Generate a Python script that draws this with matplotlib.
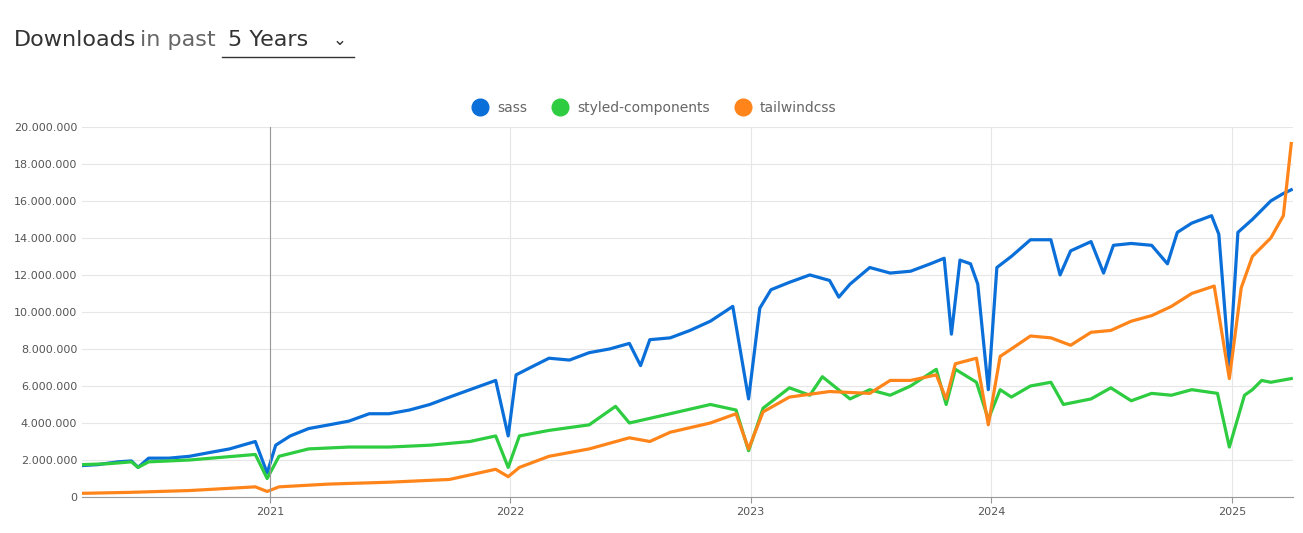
import matplotlib
matplotlib.use("Agg")
import matplotlib.pyplot as plt
import matplotlib.dates as mdates
import pandas as pd
from matplotlib.ticker import FuncFormatter
from matplotlib.lines import Line2D

sass_dates = ["2020-03-22","2020-04-15","2020-05-15","2020-06-05","2020-06-15","2020-07-01","2020-08-01","2020-09-01","2020-10-01","2020-11-01","2020-12-10","2020-12-28","2021-01-10","2021-02-01","2021-03-01","2021-04-01","2021-05-01","2021-06-01","2021-07-01","2021-08-01","2021-09-01","2021-10-01","2021-11-01","2021-12-10","2021-12-29","2022-01-10","2022-02-01","2022-03-01","2022-04-01","2022-05-01","2022-06-01","2022-07-01","2022-07-18","2022-08-01","2022-09-01","2022-10-01","2022-11-01","2022-12-05","2022-12-29","2023-01-15","2023-02-01","2023-03-01","2023-04-01","2023-05-01","2023-05-15","2023-06-01","2023-07-01","2023-08-01","2023-09-01","2023-10-01","2023-10-22","2023-11-02","2023-11-15","2023-12-01","2023-12-12","2023-12-28","2024-01-10","2024-02-01","2024-03-01","2024-04-01","2024-04-15","2024-05-01","2024-06-01","2024-06-20","2024-07-05","2024-08-01","2024-09-01","2024-09-25","2024-10-10","2024-11-01","2024-12-01","2024-12-12","2024-12-28","2025-01-10","2025-02-01","2025-03-01","2025-03-20","2025-04-01"]
sass = [1.7,1.75,1.9,1.95,1.6,2.1,2.1,2.2,2.4,2.6,3.0,1.3,2.8,3.3,3.7,3.9,4.1,4.5,4.5,4.7,5.0,5.4,5.8,6.3,3.3,6.6,7.0,7.5,7.4,7.8,8.0,8.3,7.1,8.5,8.6,9.0,9.5,10.3,5.3,10.2,11.2,11.6,12.0,11.7,10.8,11.5,12.4,12.1,12.2,12.6,12.9,8.8,12.8,12.6,11.5,5.8,12.4,13.0,13.9,13.9,12.0,13.3,13.8,12.1,13.6,13.7,13.6,12.6,14.3,14.8,15.2,14.2,7.0,14.3,15.0,16.0,16.4,16.6]

sc_dates = ["2020-03-22","2020-05-01","2020-06-05","2020-06-15","2020-07-01","2020-09-01","2020-12-10","2020-12-28","2021-01-15","2021-03-01","2021-05-01","2021-07-01","2021-09-01","2021-11-01","2021-12-10","2021-12-29","2022-01-15","2022-03-01","2022-05-01","2022-06-10","2022-07-01","2022-09-01","2022-11-01","2022-12-10","2022-12-29","2023-01-20","2023-03-01","2023-04-01","2023-04-20","2023-06-01","2023-07-01","2023-08-01","2023-09-01","2023-10-10","2023-10-25","2023-11-08","2023-12-10","2023-12-28","2024-01-15","2024-02-01","2024-03-01","2024-04-01","2024-04-20","2024-06-01","2024-07-01","2024-08-01","2024-09-01","2024-10-01","2024-11-01","2024-12-10","2024-12-28","2025-01-20","2025-02-01","2025-02-15","2025-03-01","2025-04-01"]
sc = [1.75,1.8,1.9,1.6,1.9,2.0,2.3,1.0,2.2,2.6,2.7,2.7,2.8,3.0,3.3,1.6,3.3,3.6,3.9,4.9,4.0,4.5,5.0,4.7,2.5,4.8,5.9,5.5,6.5,5.3,5.8,5.5,6.0,6.9,5.0,6.9,6.2,4.2,5.8,5.4,6.0,6.2,5.0,5.3,5.9,5.2,5.6,5.5,5.8,5.6,2.7,5.5,5.8,6.3,6.2,6.4]

tw_dates = ["2020-03-22","2020-06-01","2020-09-01","2020-12-10","2020-12-28","2021-01-15","2021-04-01","2021-07-01","2021-10-01","2021-12-10","2021-12-29","2022-01-15","2022-03-01","2022-05-01","2022-07-01","2022-08-01","2022-09-01","2022-11-01","2022-12-10","2022-12-29","2023-01-20","2023-03-01","2023-05-01","2023-07-01","2023-08-01","2023-09-01","2023-10-10","2023-10-25","2023-11-08","2023-12-10","2023-12-28","2024-01-15","2024-02-01","2024-03-01","2024-04-01","2024-05-01","2024-06-01","2024-07-01","2024-08-01","2024-09-01","2024-10-01","2024-11-01","2024-12-05","2024-12-28","2025-01-15","2025-02-01","2025-03-01","2025-03-20","2025-04-01"]
tw = [0.2,0.25,0.35,0.55,0.3,0.55,0.7,0.8,0.95,1.5,1.1,1.6,2.2,2.6,3.2,3.0,3.5,4.0,4.5,2.6,4.6,5.4,5.7,5.6,6.3,6.3,6.6,5.3,7.2,7.5,3.9,7.6,8.0,8.7,8.6,8.2,8.9,9.0,9.5,9.8,10.3,11.0,11.4,6.4,11.3,13.0,14.0,15.2,19.1]

series = [("sass", sass_dates, sass, "#0a6fd8"),
          ("styled-components", sc_dates, sc, "#2ecc40"),
          ("tailwindcss", tw_dates, tw, "#ff851b")]

fig = plt.figure(figsize=(13.03, 5.33), dpi=100)
ax = fig.add_axes([0.063, 0.0675, 0.929, 0.6945])
for name, d, v, c in series:
    ax.plot(pd.to_datetime(d), [x * 1e6 for x in v], color=c, lw=2.3, label=name)

ax.set_xlim(pd.Timestamp("2020-03-22"), pd.Timestamp("2025-04-03"))
ax.set_ylim(0, 20e6)
ax.set_yticks(range(0, 20000001, 2000000))
ax.yaxis.set_major_formatter(FuncFormatter(lambda v, p: f"{int(v):,}".replace(",", ".")))
ax.xaxis.set_major_locator(mdates.YearLocator())
ax.xaxis.set_major_formatter(mdates.DateFormatter("%Y"))
ax.grid(True, color="#e6e6e6", lw=0.8)
ax.axvline(pd.Timestamp("2021-01-01"), color="#999999", lw=0.8)
for s in ["top", "right", "left"]:
    ax.spines[s].set_visible(False)
ax.spines["bottom"].set_color("#999999")
ax.tick_params(colors="#555555", labelsize=8, length=0)
ax.tick_params(axis="x", length=4, color="#999999")

handles = [Line2D([], [], marker="o", ls="", markersize=12, color=c) for *_, c in series]
fig.legend(handles, [s[0] for s in series], loc="center", bbox_to_anchor=(0.5, 0.797), ncol=3,
           frameon=False, fontsize=10, handletextpad=0.2, columnspacing=1.4, labelcolor="#666666")

fig.text(0.011, 0.925, "Downloads", fontsize=16, color="#333333", va="center")
fig.text(0.1075, 0.925, "in past", fontsize=16, color="#666666", va="center")
fig.text(0.175, 0.925, "5 Years", fontsize=16, color="#333333", va="center")
fig.text(0.255, 0.925, "⌄", fontsize=12, color="#333333", va="center")
fig.add_artist(Line2D([0.170, 0.272], [0.893, 0.893], color="#333333", lw=1))

fig.savefig("out.png", dpi=100, facecolor="white")
